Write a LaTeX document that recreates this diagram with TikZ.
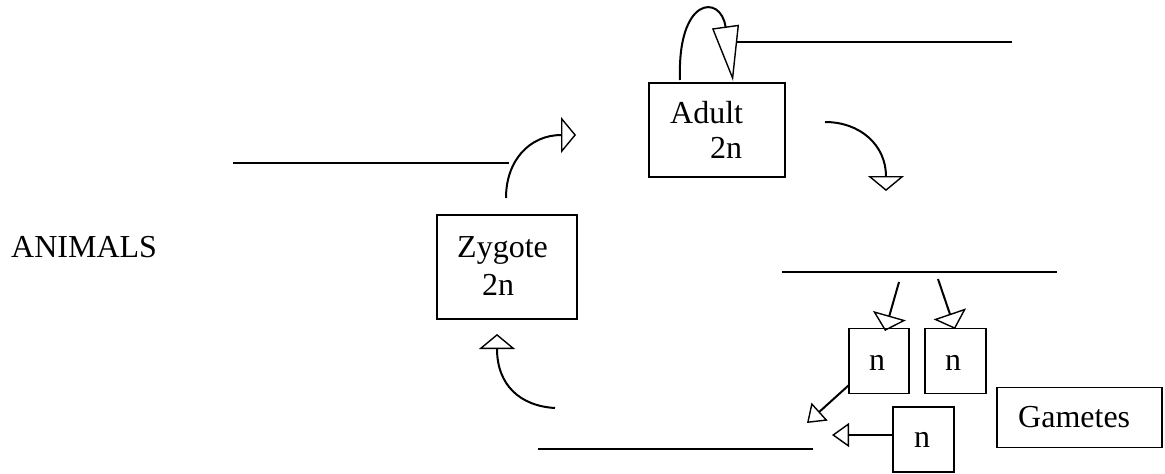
\documentclass[tikz,border=0pt]{standalone}
\usepackage{fontspec}
\setmainfont{Liberation Serif}
\usetikzlibrary{arrows.meta}
\tikzset{
  box/.style={draw=black, line width=1.4pt, rectangle, inner sep=0pt},
  lbl/.style={anchor=base west, inner sep=0pt, font=\fontsize{32}{38}\selectfont},
  lblc/.style={anchor=base, inner sep=0pt, font=\fontsize{32}{38}\selectfont},
  ln/.style={line width=2pt, line cap=butt},
  bigtip/.style={-{Triangle[open, length=15pt, width=36pt, line width=1.4pt]}},
  looptip/.style={-{Triangle[open, length=55pt, width=27pt, line width=1.4pt]}},
  smalltip/.style={-{Triangle[open, length=16pt, width=34pt, line width=1.4pt]}},
  tinytip/.style={-{Triangle[open, length=17pt, width=24pt, line width=1.4pt]}},
}
\begin{document}
\begin{tikzpicture}[x=1pt, y=-1pt]
\useasboundingbox (0,0) rectangle (1165,474);

% boxes
\node[box, minimum width=136pt, minimum height=94pt] (adult) at (717,130) {};
\node[box, minimum width=140pt, minimum height=104pt] (zygote) at (507,267) {};
\node[box, minimum width=60pt, minimum height=65pt] (n1) at (879,361) {};
\node[box, minimum width=61pt, minimum height=65pt] (n2) at (955.5,361) {};
\node[box, minimum width=61pt, minimum height=65pt] (n3) at (923.5,439.5) {};
\node[box, minimum width=165pt, minimum height=60pt] (gam) at (1079.5,417.5) {};

% texts
\node[lbl] (animals) at (11,257) {ANIMALS};
\node[lbl] (adultt) at (670,123) {Adult};
\node[lbl] (adultn) at (710,158) {2n};
\node[lbl] (zygt) at (457,257) {Zygote};
\node[lbl] (zygn) at (482,295) {2n};
\node[lblc] (n1t) at (877,370) {n};
\node[lblc] (n2t) at (953,370) {n};
\node[lblc] (n3t) at (922,447) {n};
\node[lbl] (gamt) at (1018,427) {Gametes};

% coordinates
\coordinate (loopS) at (680,80);
\coordinate (loopE) at (733,81);
\coordinate (topL) at (737,42);
\coordinate (topR) at (1012,42);
\coordinate (arcAS) at (825,122);
\coordinate (arcAE) at (886,191);
\coordinate (arcZS) at (506,198);
\coordinate (arcZE) at (576,135);
\coordinate (arcBS) at (555,408);
\coordinate (arcBE) at (497,334);
\coordinate (leftL) at (233,163);
\coordinate (leftR) at (509,163);
\coordinate (midL) at (782,272);
\coordinate (midR) at (1057,272);
\coordinate (botL) at (538,449);
\coordinate (botR) at (813,449);
\coordinate (d1S) at (899,282);
\coordinate (d1E) at (885,331);
\coordinate (d2S) at (938,279);
\coordinate (d2E) at (955,329);
\coordinate (g1S) at (849,385);
\coordinate (g1E) at (807,423);
\coordinate (g3E) at (832,435);

% plain lines
\draw[ln] (topL) -- (topR);
\draw[ln] (leftL) -- (leftR);
\draw[ln] (midL) -- (midR);
\draw[ln] (botL) -- (botR);

% curved connectors
\draw[ln, looptip] (loopS) .. controls (677,-4) and (721,-6) .. (loopE);
\draw[ln, bigtip] (arcAS) .. controls (860,122) and (886,145) .. (arcAE);
\draw[ln, bigtip] (arcZS) .. controls (506,160) and (530,135) .. (arcZE);
\draw[ln, bigtip] (arcBS) .. controls (520,406) and (497,385) .. (arcBE);

% straight arrows
\draw[ln, smalltip] (d1S) -- (d1E);
\draw[ln, smalltip] (d2S) -- (d2E);
\draw[ln, tinytip] (g1S) -- (g1E);
\draw[ln, tinytip] (n3.west |- 0,435) -- (g3E);
\end{tikzpicture}
\end{document}
